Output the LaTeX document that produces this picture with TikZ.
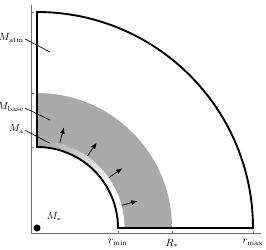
\documentclass[tikz,border=0pt]{standalone}
\usepackage{amsmath}
\usetikzlibrary{arrows.meta, positioning}
\definecolor{cCore}{HTML}{A9A9A9}
\definecolor{cAxis}{HTML}{707070}

\begin{document}
\begin{tikzpicture}[x=1cm, y=1cm,
    lbl/.style={font=\normalsize, scale=0.55, transform shape, inner sep=1pt},
    shell/.style={line width=1pt, line join=miter},
    flux/.style={-{Latex[length=3.3pt, width=2.6pt]}, line width=0.4pt},
    lead/.style={line width=0.35pt},
  ]
  \useasboundingbox (-0.685,-0.389) rectangle (4.241,4.222);

  % base layer between r_min and R_*
  \fill[cCore] (1.5,0) arc[start angle=0, end angle=90, radius=1.5]
    -- (0,2.5) arc[start angle=90, end angle=0, radius=2.5] -- cycle;
  % fading band just above r_min
  \foreach \a in {0,2,...,88}{
    \pgfmathsetmacro\mix{max(0,min(100,(\a-25)*100/60))}
    \fill[cCore!\mix!white] (\a:1.5) arc[start angle=\a, end angle=\a+2.3, radius=1.5]
      -- (\a+2.3:1.62) arc[start angle=\a+2.3, end angle=\a, radius=1.62] -- cycle;
  }
  % outflow arrows
  \foreach \a in {15,35,55,75}
    \draw[flux] (\a:1.63) -- (\a:1.93);

  % envelope
  \draw[shell] (0,4) -- (0,1.5) arc[start angle=90, end angle=0, radius=1.5]
    -- (4,0) arc[start angle=0, end angle=90, radius=4] -- cycle;

  % axes and ticks
  \draw[cAxis, line width=0.5pt] (-0.11,4.13) -- (-0.11,-0.11) -- (4.15,-0.11);
  \foreach \r in {1.5,2.5,4}{
    \draw[cAxis, line width=0.5pt] (-0.11,\r) -- ++(0.06,0);
    \draw[cAxis, line width=0.5pt] (\r,-0.11) -- ++(0,0.06);
  }
  \node[lbl, anchor=north] (rmin) at (1.5,-0.18) {$r_{\min}$};
  \node[lbl, anchor=north] (rstar) at (2.5,-0.18) {$R_*$};
  \node[lbl, anchor=north] (rmax) at (4,-0.18) {$r_{\max}$};

  % star
  \node[circle, fill=black, inner sep=0pt, minimum size=0.13cm] (star) at (0,0) {};
  \node[lbl] (mstar) at (0.32,0.21) {$M_*$};

  % mass labels
  \coordinate (atm) at (0.24,3.26);
  \coordinate (base) at (0.24,2.0);
  \coordinate (acc) at (0.24,1.57);
  \node[lbl, anchor=east] (Matm) at (-0.22,3.52) {$M_{\mathrm{atm}}$};
  \node[lbl, anchor=east] (Mbase) at (-0.22,2.24) {$M_{\mathrm{base}}$};
  \node[lbl, anchor=east] (Ma) at (-0.22,1.83) {$M_{\mathrm{a}}$};
  \draw[lead] (Matm.east) ++(0,-0.02) -- (atm);
  \draw[lead] (Mbase.east) ++(0,-0.02) -- (base);
  \draw[lead] (Ma.east) ++(0,-0.02) -- (acc);
\end{tikzpicture}
\end{document}
